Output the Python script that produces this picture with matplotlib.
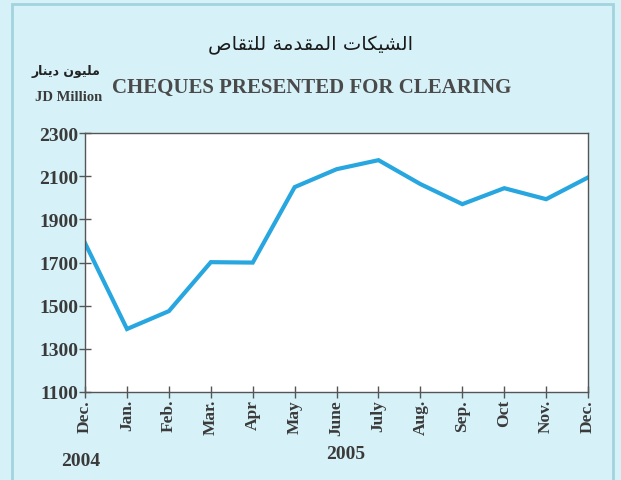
import matplotlib
matplotlib.use("Agg")
import matplotlib.pyplot as plt
from matplotlib.patches import Rectangle

months = ["Dec.", "Jan.", "Feb.", "Mar.", "Apr", "May", "June", "July",
          "Aug.", "Sep.", "Oct", "Nov.", "Dec."]
cheques = [1790, 1392, 1475, 1702, 1700, 2050, 2133, 2175,
           2064, 1971, 2045, 1994, 2095]
yticks = [1100, 1300, 1500, 1700, 1900, 2100, 2300]

title_ar = "الشيكات المقدمة للتقاص"
unit_ar = "مليون دينار"

# matplotlib has no Arabic shaping, so map letters to presentation forms
FORMS = {
    "\u0627": ("\uFE8D", "\uFE8E", None, None),
    "\u0628": ("\uFE8F", "\uFE90", "\uFE91", "\uFE92"),
    "\u0629": ("\uFE93", "\uFE94", None, None),
    "\u062A": ("\uFE95", "\uFE96", "\uFE97", "\uFE98"),
    "\u062F": ("\uFEA9", "\uFEAA", None, None),
    "\u0631": ("\uFEAD", "\uFEAE", None, None),
    "\u0634": ("\uFEB5", "\uFEB6", "\uFEB7", "\uFEB8"),
    "\u0635": ("\uFEB9", "\uFEBA", "\uFEBB", "\uFEBC"),
    "\u0642": ("\uFED5", "\uFED6", "\uFED7", "\uFED8"),
    "\u0643": ("\uFED9", "\uFEDA", "\uFEDB", "\uFEDC"),
    "\u0644": ("\uFEDD", "\uFEDE", "\uFEDF", "\uFEE0"),
    "\u0645": ("\uFEE1", "\uFEE2", "\uFEE3", "\uFEE4"),
    "\u0646": ("\uFEE5", "\uFEE6", "\uFEE7", "\uFEE8"),
    "\u0648": ("\uFEED", "\uFEEE", None, None),
    "\u064A": ("\uFEF1", "\uFEF2", "\uFEF3", "\uFEF4"),
}


def shape(text):
    out = []
    for i, ch in enumerate(text):
        if ch not in FORMS:
            out.append(ch)
            continue
        prev = text[i - 1] if i > 0 else " "
        nxt = text[i + 1] if i + 1 < len(text) else " "
        joins_prev = prev in FORMS and FORMS[prev][2] is not None
        joins_next = nxt in FORMS and FORMS[ch][2] is not None
        iso, fin, ini, med = FORMS[ch]
        if joins_prev and joins_next:
            out.append(med)
        elif joins_prev:
            out.append(fin)
        elif joins_next:
            out.append(ini)
        else:
            out.append(iso)
    return "".join(reversed(out))


bg = "#d6f2f8"
serif = "Liberation Serif"
txt = "#3a3a3a"

fig = plt.figure(figsize=(6.21, 4.81), dpi=100, facecolor=bg)
fig.patches.append(Rectangle((0.019, -0.05), 0.968, 1.04, transform=fig.transFigure,
                             fill=False, edgecolor="#a3d3de", linewidth=2))

ax = fig.add_axes([0.137, 0.183, 0.810, 0.538])
ax.set_facecolor("white")
x = range(len(months))
ax.plot(x, cheques, color="#27a6df", linewidth=3, solid_joinstyle="miter")

ax.set_xlim(0, len(months) - 1)
ax.set_ylim(1100, 2300)
ax.set_yticks(yticks)
ax.set_xticks(list(x))
ax.set_xticklabels(months, rotation=90, fontfamily=serif, fontweight="bold",
                   fontsize=12.5, color=txt)
ax.set_yticklabels([str(v) for v in yticks], fontfamily=serif, fontweight="bold",
                   fontsize=14, color=txt)
ax.tick_params(axis="both", direction="inout", length=8, width=1, color="#555555")
ax.tick_params(axis="x", pad=1)
ax.tick_params(axis="y", pad=1)
for s in ax.spines.values():
    s.set_color("#555555")
    s.set_linewidth(1)

fig.text(0.5, 0.905, shape(title_ar), ha="center", va="center",
         family=["DejaVu Sans"], fontsize=14, color="#1a1a1a")
fig.text(0.107, 0.851, shape(unit_ar), ha="center", va="center",
         family=["DejaVu Sans"], fontsize=9, fontweight="bold", color="#222222")
fig.text(0.056, 0.797, "JD Million", ha="left", va="center", family=serif,
         fontweight="bold", fontsize=10.5, color=txt)
fig.text(0.502, 0.818, "CHEQUES PRESENTED FOR CLEARING", ha="center", va="center",
         family=serif, fontweight="bold", fontsize=15, color="#4a4a4a")
fig.text(0.13, 0.04, "2004", ha="center", va="center", family=serif,
         fontweight="bold", fontsize=14, color=txt)
fig.text(0.557, 0.055, "2005", ha="center", va="center", family=serif,
         fontweight="bold", fontsize=14, color=txt)

fig.savefig("out.png", dpi=100, facecolor=bg)
